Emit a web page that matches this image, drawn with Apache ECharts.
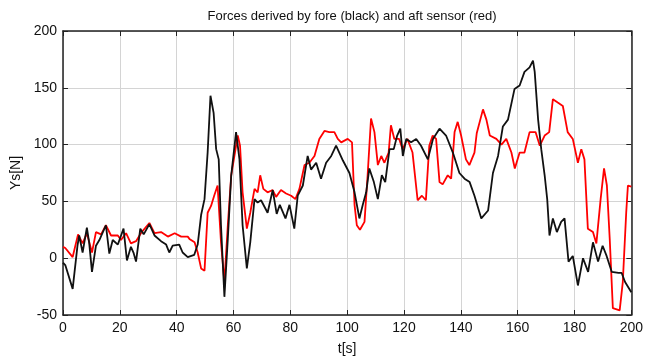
<!DOCTYPE html>
<html lang="en">
    <head>
        <meta charset="UTF-8">
        <title>Forces</title>
        <script src="https://cdn.jsdelivr.net/npm/echarts@6/dist/echarts.min.js"></script>
        <style type="text/css">
            body { margin: 0; background: #fff; }
        </style>
    </head>
    <body>
        <div id="main" style="width: 646px;height:363px;"></div>
    </body>

    <script type="text/javascript">
        // fore sensor (black)
        var blackT = [0,0.8,3.4,5.1,5.7,6.9,8.4,9.2,10.2,11.6,12.8,15.1,16.3,17.5,19.3,21.3,22.5,23.9,24.8,25.7,27.2,28.4,30.4,32.2,34.5,36.3,37.4,38.6,40.9,42.1,43.9,46.2,47.4,48.6,49.8,50.9,51.9,53,53.9,54.8,55.6,56.8,58,59.2,60.9,62.1,63.2,64.7,65.9,67.4,68.5,69.7,72,73.8,75.2,76.3,78.3,79.7,81.4,82.6,84.4,86.1,87.3,89.1,90.8,92.6,94.4,96.1,98.5,100.8,102.6,104.3,105.5,106.7,107.8,109.4,110.8,112.2,113.4,114.9,116.4,117.6,118.7,119.6,120.8,122.5,124.3,126,128.4,130.2,132.5,134.8,137.2,139.5,141.3,143.1,144.8,147.2,149.6,151.3,153.1,154.8,156.6,158.9,160.7,162.4,164.2,165.4,166,167.2,168.3,169.5,170.4,171.2,172.4,173.8,175.3,176.5,177.9,179.4,181.2,183,184.8,186.5,188.3,189.9,191.3,193.1,195.5,196.6,197.8,200];
        var blackY = [-4,-6,-27,11,20,5,27,14,-12,11,16,29,4,16,12,26,-2,10,5,-3,26,21,30,20,15,12,5,11,12,5,1,3,12,38,52,93,143,128,96,87,29,-34,17,73,111,87,29,-9,14,52,49,51,40,60,39,47,35,47,26,55,64,90,78,84,70,84,90,99,86,75,58,35,47,58,79,67,52,73,67,96,96,108,114,90,105,102,105,99,87,105,114,108,93,75,70,67,55,35,42,75,90,116,122,149,152,164,168,174,164,122,96,73,52,20,35,23,32,35,-3,2,-24,0,-12,14,-3,11,2,-12,-13,-13,-21,-30];
        // aft sensor (red)
        var redT = [0,0.8,3.4,5.3,6.9,8.4,10.2,11.6,13.4,15.1,16.9,19.3,20.4,22.2,23.9,25.7,27.7,30.4,32.2,34.5,36.9,39.3,41.6,43.9,44.5,46.3,47.4,48.6,49.8,50.9,52.1,53.2,54.4,55.6,56.8,58,59.2,61.5,62.3,63.2,64.7,65.9,67.4,68.5,69.4,70.5,72,73.8,75,76.7,78.5,80.3,81.8,83.2,85,86.7,88.5,90.2,92,93.7,95.5,96.7,97.9,100.2,101.7,102.6,103.4,104.5,106.1,107.2,108.4,109.6,110.8,112,113.1,114.6,115.4,116.6,118.3,119.5,121.2,123,124.8,126.3,127.7,128.9,130.1,131.3,132.5,133.6,135.4,136.6,137.8,138.9,140.1,141.8,143,144.8,145.6,147.8,149,150.2,152.5,154.3,156,157.8,159,160.7,162.4,164.2,166.3,167.8,169.5,171.1,172.4,174.1,175.9,177.6,179.4,181.2,182.4,183.5,184.7,186.5,187.7,189.2,190.4,191.4,192.4,193.5,195.9,197,198.2,198.8,200];
        var redY = [10,9,1,21,13,22,5,23,21,29,20,20,16,22,13,15,23,31,22,23,19,22,19,19,17,14,5,-9,-11,40,46,55,64,14,-21,29,73,108,99,58,26,40,61,58,73,61,58,60,54,60,57,55,52,61,82,84,90,105,112,111,111,105,102,105,102,47,29,25,32,73,123,111,82,90,84,93,117,105,105,96,105,93,51,55,51,99,108,105,67,65,73,70,111,120,108,87,82,93,110,131,122,108,105,100,105,93,79,93,93,111,111,99,108,111,140,137,134,111,105,84,96,87,26,23,13,52,79,64,17,-44,-46,-21,40,64,63];

        function pairs(t, y) {
            var out = [];
            for (var i = 0; i < t.length; i++) {
                out.push([t[i], y[i]]);
            }
            return out;
        }

        var font = 'Liberation Sans, Arial, sans-serif';
        var boxLine = { show: true, onZero: false, lineStyle: { color: '#222', width: 1.5 } };
        var boxTick = { show: true, inside: true, length: 5, lineStyle: { color: '#222' } };

        var myChart = echarts.init(document.getElementById('main'));
        myChart.setOption({
            animation: false,
            title: {
                text: 'Forces derived by fore (black) and aft sensor (red)',
                left: 347,
                textAlign: 'center',
                top: 5,
                textStyle: { fontSize: 13, fontWeight: 'normal', color: '#111', fontFamily: font }
            },
            grid: { left: 63, right: 14, top: 31, bottom: 48 },
            xAxis: [{
                type: 'value',
                min: 0, max: 200, interval: 20,
                name: 't[s]',
                nameLocation: 'middle',
                nameGap: 27,
                nameTextStyle: { fontSize: 14, color: '#111', fontFamily: font },
                axisLine: boxLine,
                axisTick: boxTick,
                axisLabel: { fontSize: 14, color: '#111', fontFamily: font, margin: 6 },
                splitLine: { show: true, lineStyle: { color: '#d4d4d4', width: 1 } }
            }, {
                type: 'value',
                position: 'top',
                min: 0, max: 200, interval: 20,
                axisLine: boxLine,
                axisTick: boxTick,
                axisLabel: { show: false },
                splitLine: { show: false }
            }],
            yAxis: [{
                type: 'value',
                min: -50, max: 200, interval: 50,
                name: 'Ys[N]',
                nameLocation: 'middle',
                nameGap: 40,
                nameTextStyle: { fontSize: 14, color: '#111', fontFamily: font },
                axisLine: boxLine,
                axisTick: boxTick,
                axisLabel: { fontSize: 14, color: '#111', fontFamily: font, margin: 6 },
                splitLine: { show: true, lineStyle: { color: '#d4d4d4', width: 1 } }
            }, {
                type: 'value',
                position: 'right',
                min: -50, max: 200, interval: 50,
                axisLine: boxLine,
                axisTick: boxTick,
                axisLabel: { show: false },
                splitLine: { show: false }
            }],
            series: [{
                name: 'aft',
                type: 'line',
                showSymbol: false,
                data: pairs(redT, redY),
                lineStyle: { color: '#ff0000', width: 1.8 },
                itemStyle: { color: '#ff0000' }
            }, {
                name: 'fore',
                type: 'line',
                showSymbol: false,
                data: pairs(blackT, blackY),
                lineStyle: { color: '#111111', width: 1.8 },
                itemStyle: { color: '#111111' }
            }]
        });
    </script>
</html>
